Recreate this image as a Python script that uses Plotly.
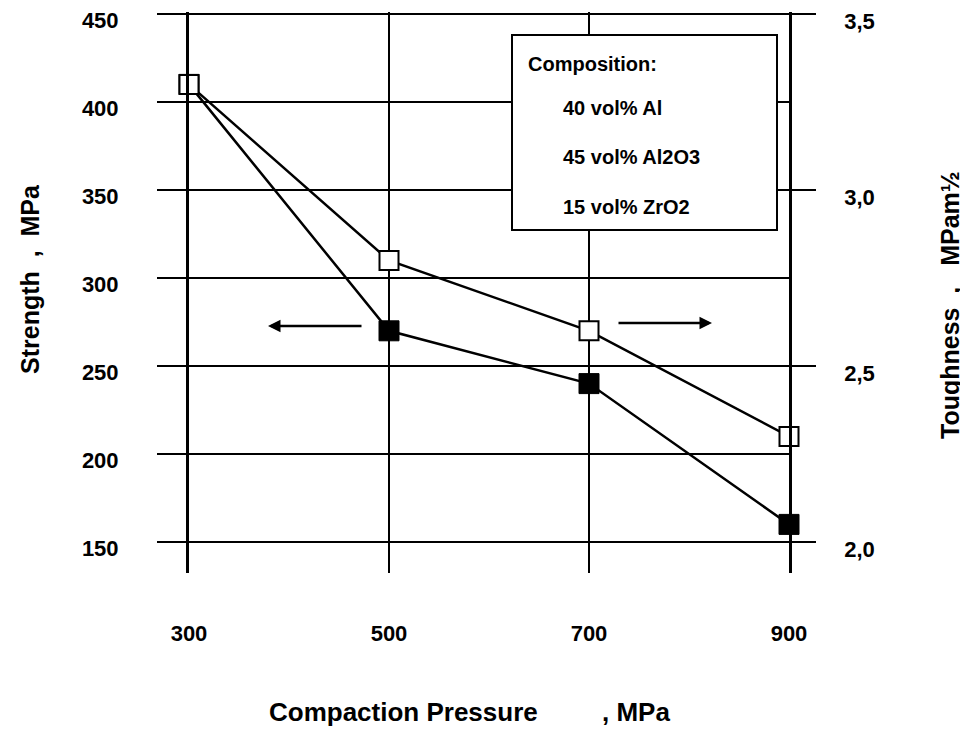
import plotly.graph_objects as go

# ---- data ----
pressure = [300, 500, 700, 900]
strength = [410, 270, 240, 160]          # MPa, filled squares, left axis
toughness = [3.3, 2.8, 2.6, 2.3]         # MPa m^1/2, open squares, right axis

pressure_ticks = [300, 500, 700, 900]
strength_ticks = [150, 200, 250, 300, 350, 400, 450]
toughness_ticks = [2.0, 2.5, 3.0, 3.5]
toughness_ticktext = ["2,0", "2,5", "3,0", "3,5"]

composition_title = "Composition:"
composition_lines = ["40 vol% Al", "45 vol% Al2O3", "15 vol% ZrO2"]

x_title = "Compaction Pressure"
x_unit = ", MPa"
y_title = "Strength\u00a0\u00a0,\u00a0\u00a0MPa"
y2_title = "Toughness\u00a0\u00a0,\u00a0\u00a0\u00a0MPam\u00bd"

# ---- layout geometry ----
# The page body has an 8px default margin, so the figure is drawn 8px
# right/down in the window; the figure size is reduced accordingly.
OFF = 8
W, H = 968 - OFF, 732 - OFF
L, R, T, B = 189 - OFF, 179, 12 - OFF, 159
PW, PH = W - L - R, H - T - B
UNIT = 528 / 300.0                # px per MPa on the strength axis
PAD_TOP = 2 / UNIT                # 2px headroom so the 450 line is kept
PAD_BOT = 31 / UNIT               # vertical grid lines run 31px below 150

Y_RANGE = [150 - PAD_BOT, 450 + PAD_TOP]
Y2_RANGE = [2.0 + (Y_RANGE[0] - 150) / 200.0, 3.5 + (Y_RANGE[1] - 450) / 200.0]


def px(x):  # window pixel -> paper x
    return (x - OFF - L) / PW


def py(y):  # window pixel -> paper y
    return (H - B - (y - OFF)) / PH


FONT = "Liberation Sans, Arial, Helvetica, sans-serif"
bold = lambda s: dict(family=FONT, size=s, color="black", weight="bold")

fig = go.Figure()
fig.add_trace(go.Scatter(
    x=pressure, y=strength, mode="lines+markers",
    line=dict(color="black", width=2.5),
    marker=dict(symbol="square", size=20, color="black",
                line=dict(color="black", width=1)),
    cliponaxis=False, showlegend=False, name="Strength"))
fig.add_trace(go.Scatter(
    x=pressure, y=toughness, yaxis="y2", mode="lines+markers",
    line=dict(color="black", width=2.5),
    marker=dict(symbol="square", size=19, color="white",
                line=dict(color="black", width=2)),
    cliponaxis=False, showlegend=False, name="Toughness"))

fig.update_layout(
    width=W, height=H,
    margin=dict(l=L, r=R, t=T, b=B, pad=0, autoexpand=False),
    paper_bgcolor="white", plot_bgcolor="white",
    font=bold(20),
    xaxis=dict(range=[300, 900], tickvals=pressure_ticks, automargin=False,
               showgrid=True, gridcolor="black", gridwidth=2,
               showline=False, zeroline=False, ticks="",
               ticklabelstandoff=45, tickfont=bold(22)),
    yaxis=dict(range=Y_RANGE, tickvals=strength_ticks, automargin=False,
               showgrid=True, gridcolor="black", gridwidth=2,
               showline=True, linecolor="black", linewidth=3,
               zeroline=False, ticks="outside", ticklen=29, tickwidth=2,
               tickcolor="black", ticklabelstandoff=34, tickfont=bold(22),
               ticklabeloverflow="allow", ticklabelshift=6),
    yaxis2=dict(overlaying="y", side="right", range=Y2_RANGE, automargin=False,
                tickvals=toughness_ticks, ticktext=toughness_ticktext,
                showgrid=False, showline=True, linecolor="black", linewidth=2.5,
                zeroline=False, ticks="outside", ticklen=24, tickwidth=2,
                tickcolor="black", ticklabelstandoff=24, tickfont=bold(22),
                ticklabeloverflow="allow", ticklabelshift=7),
)

# composition box
fig.add_shape(type="rect", xref="paper", yref="paper",
              x0=px(512), x1=px(777), y0=py(230), y1=py(35),
              fillcolor="white", line=dict(color="black", width=2),
              layer="above")

annots = [
    dict(text=composition_title, x=px(526), y=py(64), xanchor="left", font=bold(20)),
]
for txt, yy in zip(composition_lines, [108, 157, 207]):
    annots.append(dict(text=txt, x=px(561), y=py(yy), xanchor="left", font=bold(20)))

annots += [
    dict(text=x_title, x=px(403), y=py(712), xanchor="center", font=bold(26)),
    dict(text=x_unit, x=px(600), y=py(712), xanchor="left", font=bold(26)),
    dict(text=y_title, x=px(30), y=py(279), textangle=-90, font=bold(25)),
    dict(text=y2_title, x=px(950), y=py(305), textangle=-90, font=bold(25)),
]
for a in annots:
    a.update(xref="paper", yref="paper", showarrow=False, yanchor="middle")
    a.setdefault("xanchor", "center")
    fig.add_annotation(**a)

# direction arrows
fig.add_annotation(xref="paper", yref="paper", x=px(268), y=py(326), text="",
                   showarrow=True, ax=95, ay=0, arrowhead=2, arrowsize=1,
                   arrowwidth=2.5, arrowcolor="black")
fig.add_annotation(xref="paper", yref="paper", x=px(712), y=py(323), text="",
                   showarrow=True, ax=-95, ay=0, arrowhead=2, arrowsize=1,
                   arrowwidth=2.5, arrowcolor="black")

fig.write_html("out.html")
